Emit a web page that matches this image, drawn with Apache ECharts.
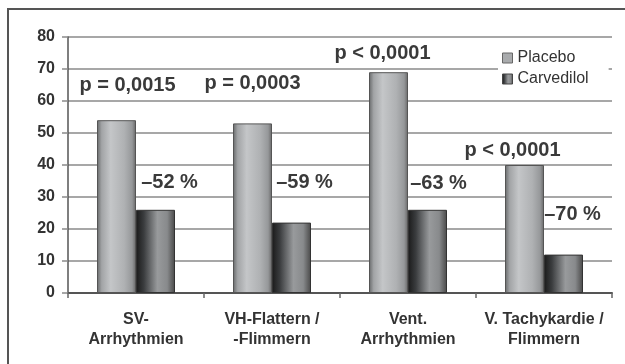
<!DOCTYPE html>
<html>
<head>
<meta charset="utf-8">
<script src="https://cdn.jsdelivr.net/npm/echarts@6/dist/echarts.min.js"></script>
<style>
html,body{margin:0;padding:0;background:#fff;}
#chart{width:625px;height:364px;}
</style>
</head>
<body>
<div id="chart"></div>
<script>
var categories = ['SV-\nArrhythmien', 'VH-Flattern /\n-Flimmern', 'Vent.\nArrhythmien', 'V. Tachykardie /\nFlimmern'];
var placebo = [54, 53, 69, 40];
var carvedilol = [26, 22, 26, 12];
var pValues = ['p = 0,0015', 'p = 0,0003', 'p < 0,0001', 'p < 0,0001'];
var pValueY = [65, 65.5, 75, 44.5];
var reductions = ['–52 %', '–59 %', '–63 %', '–70 %'];
var reductionY = [34.4, 34.4, 34.2, 24.4];
var yTicks = [0, 10, 20, 30, 40, 50, 60, 70, 80];

var pDx = [11, 0, -6, -12];
var rDx = [14, 13, 11, 9];

var FONT = '"Liberation Sans", Arial, sans-serif';
var chart = echarts.init(document.getElementById('chart'), null, {renderer: 'canvas'});

var placeboColor = new echarts.graphic.LinearGradient(0, 0, 1, 0, [
  {offset: 0, color: '#666869'},
  {offset: 0.12, color: '#a2a4a6'},
  {offset: 0.35, color: '#c4c6c8'},
  {offset: 0.7, color: '#afb1b3'},
  {offset: 0.9, color: '#96989a'},
  {offset: 1, color: '#666'}
]);
var carvColor = new echarts.graphic.LinearGradient(0, 0, 1, 0, [
  {offset: 0, color: '#1a1a1a'},
  {offset: 0.2, color: '#3a3c3e'},
  {offset: 0.55, color: '#989a9c'},
  {offset: 0.8, color: '#888a8c'},
  {offset: 1, color: '#484848'}
]);

var annStyle = {fontFamily: FONT, fontSize: 20, fontWeight: 'bold', color: '#3a3a3a'};

chart.setOption({
  animation: false,
  backgroundColor: '#ffffff',
  graphic: [{
    type: 'rect', z: -1, silent: true,
    shape: {x: 8, y: 9, width: 700, height: 400},
    style: {fill: 'none', stroke: '#555', lineWidth: 2}
  }],
  grid: {left: 68, right: 13, top: 37, bottom: 71, containLabel: false},
  legend: {
    orient: 'vertical',
    left: 498, top: 46,
    padding: [4, 20, 6, 4],
    backgroundColor: '#ffffff',
    itemWidth: 10, itemHeight: 10, itemGap: 5,
    textStyle: {fontFamily: FONT, fontSize: 16, color: '#333', lineHeight: 16},
    z: 5,
    data: [
      {name: 'Placebo', icon: 'rect', itemStyle: {color: '#a9abad', borderColor: '#666', borderWidth: 1}},
      {name: 'Carvedilol', icon: 'rect', itemStyle: {color: carvColor, borderColor: '#444', borderWidth: 1}}
    ]
  },
  xAxis: {
    type: 'category',
    data: categories,
    axisLine: {lineStyle: {color: '#555', width: 2}},
    axisTick: {show: true, alignWithLabel: false, length: 5, lineStyle: {color: '#666', width: 1.5}},
    axisLabel: {fontFamily: FONT, fontSize: 16, fontWeight: 'bold', color: '#333', lineHeight: 20, margin: 17, interval: 0}
  },
  yAxis: {
    type: 'value', min: 0, max: 80, interval: 10,
    axisLine: {show: true, lineStyle: {color: '#555', width: 1.5}},
    axisTick: {show: true, length: 6, lineStyle: {color: '#8a8a8a', width: 1.5}},
    splitLine: {lineStyle: {color: '#8a8a8a', width: 1.6}},
    axisLabel: {fontFamily: FONT, fontSize: 16, fontWeight: 'bold', color: '#333', margin: 13,
      formatter: function (v) { return yTicks.indexOf(v) >= 0 ? String(v) : ''; }}
  },
  series: [{
    name: 'Placebo', type: 'bar', data: placebo,
    barWidth: 39, barGap: '0%',
    itemStyle: {color: placeboColor, borderColor: '#555', borderWidth: 1},
    markPoint: {
      symbol: 'circle', symbolSize: 0, silent: true,
      label: Object.assign({show: true, position: 'inside'}, annStyle),
      data: pValues.map(function (t, i) {
        return {coord: [i, pValueY[i]], value: t,
          label: {formatter: t, offset: [pDx[i], 0]}};
      })
    }
  }, {
    name: 'Carvedilol', type: 'bar', data: carvedilol,
    barWidth: 39,
    itemStyle: {color: carvColor, borderColor: '#333', borderWidth: 1},
    markPoint: {
      symbol: 'circle', symbolSize: 0, silent: true,
      label: Object.assign({show: true, position: 'inside'}, annStyle),
      data: reductions.map(function (t, i) {
        return {coord: [i, reductionY[i]], value: t,
          label: {formatter: t, offset: [rDx[i], 0]}};
      })
    }
  }]
});
</script>
</body>
</html>
